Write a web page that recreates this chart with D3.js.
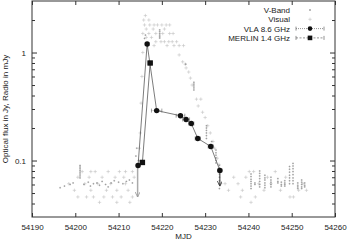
<!DOCTYPE html>
<html>
<head>
<meta charset="utf-8">
<script src="https://cdn.jsdelivr.net/npm/d3@7"></script>
<style>
  body { margin: 0; background: #fff; }
  text { font-family: "Liberation Sans", Arial, sans-serif; fill: #222; }
</style>
</head>
<body>
<script>
// V-Band measurements [MJD, flux in Jy]
var vband = [
  [54196.5,0.056],[54197.5,0.058],[54198.8,0.060],[54199.5,0.062],
  [54201.1,0.090],[54201.1,0.087],[54201.1,0.084],[54201.1,0.081],[54201.1,0.078],[54201.1,0.075],[54201.1,0.072],[54201.1,0.069],
  [54202.0,0.060],[54203.0,0.063],[54203.5,0.058],[54204.2,0.061],[54205.0,0.062],[54205.6,0.059],[54206.2,0.064],
  [54207.0,0.060],[54207.6,0.057],[54208.3,0.062],[54209.0,0.065],[54210.0,0.063],[54211.0,0.061],[54211.8,0.064],
  [54212.5,0.066],[54213.2,0.062],
  [54214.0,0.110],[54214.2,0.130],[54214.6,0.100],
  [54216.0,1.35],[54216.2,1.45],
  [54219.5,1.62],[54219.5,1.56],[54219.5,1.50],[54219.5,1.45],[54219.5,1.40],[54219.5,1.36],
  [54225.5,0.78],
  [54227.4,0.53],[54227.4,0.51],[54227.4,0.49],[54227.4,0.47],[54227.4,0.45],
  [54230.3,0.21],[54230.3,0.20],[54230.3,0.19],[54230.3,0.18],[54230.3,0.17],[54230.3,0.16],
  [54231.5,0.15],[54231.5,0.14],[54231.5,0.13],
  [54232.5,0.125],[54232.5,0.118],[54232.5,0.112],[54232.5,0.106],[54232.5,0.100],[54232.5,0.095],
  [54233.3,0.090],[54233.3,0.085],[54233.3,0.080],[54233.3,0.075],[54233.3,0.070],[54233.3,0.065],[54233.3,0.060],[54233.3,0.055],
  [54240.6,0.075],[54240.6,0.071],[54240.6,0.067],[54240.6,0.064],[54240.6,0.061],[54240.6,0.058],[54240.6,0.055],
  [54241.5,0.062],[54241.5,0.060],
  [54242.6,0.080],[54242.6,0.076],[54242.6,0.072],[54242.6,0.068],[54242.6,0.064],[54242.6,0.060],[54242.6,0.057],
  [54243.8,0.073],[54243.8,0.069],[54243.8,0.066],[54243.8,0.062],[54243.8,0.059],[54243.8,0.056],
  [54245.2,0.070],[54245.2,0.066],[54245.2,0.063],[54245.2,0.060],[54245.2,0.057],
  [54246.8,0.068],[54246.8,0.064],[54246.8,0.062],
  [54247.6,0.063],[54247.6,0.060],[54247.6,0.058],
  [54248.4,0.065],[54248.4,0.062],[54248.4,0.060],[54248.4,0.058],
  [54249.5,0.088],[54249.5,0.083],[54249.5,0.078],[54249.5,0.073],[54249.5,0.069],[54249.5,0.065],[54249.5,0.061],
  [54250.3,0.094],[54250.3,0.089],[54250.3,0.084],[54250.3,0.079],[54250.3,0.074],[54250.3,0.069],[54250.3,0.065],[54250.3,0.061],
  [54251.4,0.062],[54251.4,0.059],[54251.4,0.057],[54251.4,0.055],
  [54252.3,0.066],[54252.3,0.063],[54252.3,0.060],[54252.3,0.057],[54252.3,0.055],
  [54253.0,0.062],[54253.0,0.059],[54253.0,0.057]
];

// visual estimates [MJD, flux in Jy]
var visual = [
  [54198.5,0.061],[54199.8,0.053],[54200.6,0.070],[54200.6,0.046],[54201.6,0.079],[54202.2,0.061],[54202.6,0.046],
  [54203.2,0.070],[54203.6,0.053],[54204.2,0.046],[54204.6,0.079],[54205.2,0.061],[54205.6,0.041],[54206.2,0.070],
  [54206.6,0.046],[54207.2,0.053],[54207.6,0.079],[54208.2,0.061],[54208.6,0.046],[54209.2,0.070],[54209.6,0.053],
  [54210.2,0.079],[54210.6,0.046],[54211.2,0.070],[54211.6,0.061],[54212.2,0.053],[54212.6,0.041],[54213.2,0.079],
  [54213.6,0.070],[54213.2,0.046],[54211.6,0.079],[54203.6,0.079],[54209.6,0.041],
  [54214.8,0.13],[54215.0,0.18],[54215.2,0.34],[54215.4,0.6],[54215.6,1.0],
  [54216.2,2.2],[54215.8,2.0],[54217.0,2.0],[54216.0,1.8],[54217.2,1.8],[54218.2,1.8],[54219.0,1.8],[54220.0,1.8],
  [54221.0,1.8],[54221.8,1.8],[54216.4,1.65],[54218.0,1.65],[54220.6,1.65],[54215.6,1.5],[54217.0,1.5],[54218.6,1.5],
  [54220.2,1.5],[54221.8,1.5],[54222.6,1.5],[54216.4,1.38],[54217.6,1.38],[54218.6,1.26],[54219.8,1.26],[54220.6,1.26],
  [54221.6,1.26],[54222.4,1.26],[54223.4,1.26],[54216.8,1.16],[54218.2,1.16],[54221.2,1.16],[54222.8,1.16],
  [54224.0,1.16],[54225.0,1.16],
  [54224.0,0.95],[54224.8,0.82],[54225.6,0.72],[54226.6,0.58],[54227.0,0.50],[54228.0,0.37],[54229.0,0.37],
  [54228.4,0.32],[54229.4,0.28],[54230.0,0.25],[54230.6,0.21],[54231.2,0.18],[54231.8,0.15],[54232.2,0.13],
  [54232.8,0.105],[54233.2,0.092],[54225.4,0.78],[54226.2,0.66],
  [54233.6,0.061],[54234.6,0.061],[54235.4,0.053],[54236.6,0.070],[54237.6,0.061],[54238.6,0.053],[54239.4,0.070],
  [54240.2,0.079],[54241.2,0.079],[54241.6,0.046],[54242.4,0.061],[54243.6,0.053],[54244.4,0.070],[54245.2,0.061],
  [54246.2,0.079],[54247.4,0.053],[54248.6,0.070],[54249.6,0.046],[54250.4,0.046],[54251.6,0.053],[54252.6,0.061],
  [54253.4,0.053],[54240.6,0.041],[54238.2,0.046]
];

// radio points [MJD, flux in mJy, x error in days]
var vla = [
  [54214.5,0.090,0.4],[54216.6,1.2,0.4],[54218.8,0.29,1.2],[54224.3,0.26,1.0],[54225.6,0.24,0.8],
  [54226.8,0.22,0.6],[54228.3,0.16,0.6],[54231.3,0.135,0.6],[54233.4,0.081,0.5]
];
var merlin = [
  [54215.5,0.096,0.5],[54217.3,0.80,0.5]
];

// upper limit arrows [MJD, from, to]
var limits = [[54214.4,0.088,0.046]];
var vlaLimit = [[54233.4,0.081,0.058]];

var legendNames = ["V-Band", "Visual", "VLA 8.6 GHz", "MERLIN 1.4 GHz"];
var xTicks = [54190, 54200, 54210, 54220, 54230, 54240, 54250, 54260];

var margin = {top: 1, right: 13, bottom: 25, left: 32},
    width = 348 - margin.left - margin.right,
    height = 242 - margin.top - margin.bottom;

var x = d3.scaleLinear().domain([54190, 54260]).range([0, width]);
var y = d3.scaleLog().domain([0.03, 3]).range([height, 0]);

var svg = d3.select("body").append("svg")
    .attr("width", 348)
    .attr("height", 242)
  .append("g")
    .attr("transform", "translate(" + margin.left + "," + margin.top + ")");

var defs = svg.append("defs");
defs.append("marker").attr("id", "arrGray")
    .attr("viewBox", "0 0 6 6").attr("refX", 3).attr("refY", 6)
    .attr("markerWidth", 5).attr("markerHeight", 6)
    .attr("markerUnits", "userSpaceOnUse")
  .append("path").attr("d", "M0,0 L3,6 L6,0").attr("fill", "none").attr("stroke", "#999");
defs.append("marker").attr("id", "arrDark")
    .attr("viewBox", "0 0 6 6").attr("refX", 3).attr("refY", 6)
    .attr("markerWidth", 5).attr("markerHeight", 6)
    .attr("markerUnits", "userSpaceOnUse")
  .append("path").attr("d", "M0,0 L3,6 L6,0").attr("fill", "none").attr("stroke", "#333");

// axes (gnuplot style, ticks inward and mirrored)
var minorY = [0.04,0.05,0.06,0.07,0.08,0.09,0.2,0.3,0.4,0.5,0.6,0.7,0.8,0.9,2];

function styleAxis(g) {
  g.select(".domain").remove();
  g.selectAll("line").attr("stroke", "#333");
  g.selectAll("text").style("font-size", "8px").attr("fill", "#222");
}

svg.append("g").attr("transform", "translate(0," + height + ")")
    .call(d3.axisBottom(x).tickValues(xTicks).tickFormat(d3.format("d")).tickSize(-4).tickPadding(7))
    .call(styleAxis);
svg.append("g")
    .call(d3.axisTop(x).tickValues(xTicks).tickFormat("").tickSize(-4))
    .call(styleAxis);
svg.append("g")
    .call(d3.axisLeft(y).tickValues([0.1, 1]).tickFormat(d3.format("")).tickSize(-5).tickPadding(6))
    .call(styleAxis);
svg.append("g")
    .call(d3.axisLeft(y).tickValues(minorY).tickFormat("").tickSize(-3))
    .call(styleAxis);
svg.append("g").attr("transform", "translate(" + width + ",0)")
    .call(d3.axisRight(y).tickValues([0.1, 1]).tickFormat("").tickSize(-5))
    .call(styleAxis);
svg.append("g").attr("transform", "translate(" + width + ",0)")
    .call(d3.axisRight(y).tickValues(minorY).tickFormat("").tickSize(-3))
    .call(styleAxis);

svg.append("rect")
    .attr("width", width).attr("height", height)
    .attr("fill", "none").attr("stroke", "#333").attr("stroke-width", 1);

// axis labels
svg.append("text")
    .attr("transform", "rotate(-90)")
    .attr("y", 0 - margin.left + 8)
    .attr("x", 0 - (height / 2))
    .style("text-anchor", "middle")
    .style("font-size", "8px")
    .text("Optical flux in Jy, Radio in mJy");

svg.append("text")
    .attr("x", width / 2)
    .attr("y", height + 22)
    .style("text-anchor", "middle")
    .style("font-size", "8px")
    .text("MJD");

// small crosses for the optical data
function cross(sel, data, size, color) {
  sel.selectAll(null).data(data).enter().append("path")
      .attr("d", function(d) {
        var px = x(d[0]), py = y(d[1]);
        return "M" + (px - size) + "," + py + "h" + (2 * size) + "M" + px + "," + (py - size) + "v" + (2 * size);
      })
      .attr("stroke", color).attr("stroke-width", 0.6);
}
cross(svg.append("g"), visual, 1.7, "#c2c2c2");
cross(svg.append("g"), vband, 0.9, "#8a8a8a");

// upper limits
svg.selectAll(".lim").data(limits).enter().append("line")
    .attr("x1", function(d) { return x(d[0]); }).attr("x2", function(d) { return x(d[0]); })
    .attr("y1", function(d) { return y(d[1]); }).attr("y2", function(d) { return y(d[2]); })
    .attr("stroke", "#aaa").attr("stroke-width", 1.5)
    .attr("marker-end", "url(#arrGray)");

svg.selectAll(".vlim").data(vlaLimit).enter().append("line")
    .attr("x1", function(d) { return x(d[0]); }).attr("x2", function(d) { return x(d[0]); })
    .attr("y1", function(d) { return y(d[1]); }).attr("y2", function(d) { return y(d[2]); })
    .attr("stroke", "#333").attr("stroke-width", 1)
    .attr("marker-end", "url(#arrDark)");

// radio series
var line = d3.line()
    .x(function(d) { return x(d[0]); })
    .y(function(d) { return y(d[1]); });

function errBars(data) {
  var g = svg.append("g").attr("stroke", "#666").attr("stroke-width", 0.6);
  data.forEach(function(d) {
    var py = y(d[1]);
    g.append("line").attr("x1", x(d[0] - d[2])).attr("x2", x(d[0] + d[2]))
        .attr("y1", py).attr("y2", py).attr("stroke-dasharray", "1,1");
    g.append("line").attr("x1", x(d[0] - d[2])).attr("x2", x(d[0] - d[2]))
        .attr("y1", py - 2).attr("y2", py + 2);
    g.append("line").attr("x1", x(d[0] + d[2])).attr("x2", x(d[0] + d[2]))
        .attr("y1", py - 2).attr("y2", py + 2);
  });
}
errBars(vla);
errBars(merlin);

svg.append("path").datum(vla).attr("d", line)
    .attr("fill", "none").attr("stroke", "#444").attr("stroke-width", 0.7);
svg.append("path").datum(merlin).attr("d", line)
    .attr("fill", "none").attr("stroke", "#444").attr("stroke-width", 0.7);

svg.selectAll(".vla").data(vla).enter().append("circle")
    .attr("cx", function(d) { return x(d[0]); })
    .attr("cy", function(d) { return y(d[1]); })
    .attr("r", 2.7).attr("fill", "#111");

svg.selectAll(".merlin").data(merlin).enter().append("rect")
    .attr("x", function(d) { return x(d[0]) - 2.7; })
    .attr("y", function(d) { return y(d[1]) - 2.7; })
    .attr("width", 5.4).attr("height", 5.4).attr("fill", "#111");

// legend
var legend = svg.append("g").attr("transform", "translate(" + (width - 45) + ",0)");
legendNames.forEach(function(name, i) {
  var ly = 9 + i * 9.3;
  legend.append("text").attr("x", 0).attr("y", ly + 3)
      .style("text-anchor", "end").style("font-size", "8px").text(name);
  var cx = 20;
  if (i === 0) {
    legend.append("path").attr("d", "M" + (cx - 1) + "," + ly + "h2M" + cx + "," + (ly - 1) + "v2")
        .attr("stroke", "#8a8a8a").attr("stroke-width", 0.7);
  } else if (i === 1) {
    legend.append("path").attr("d", "M" + (cx - 1.7) + "," + ly + "h3.4M" + cx + "," + (ly - 1.7) + "v3.4")
        .attr("stroke", "#c2c2c2").attr("stroke-width", 0.6);
  } else {
    legend.append("line").attr("x1", 6).attr("x2", 34).attr("y1", ly).attr("y2", ly)
        .attr("stroke", "#666").attr("stroke-width", 0.7)
        .attr("stroke-dasharray", i === 2 ? "1,1" : "2,1.5");
    legend.append("line").attr("x1", 6).attr("x2", 6).attr("y1", ly - 2).attr("y2", ly + 2)
        .attr("stroke", "#666").attr("stroke-width", 0.7);
    legend.append("line").attr("x1", 34).attr("x2", 34).attr("y1", ly - 2).attr("y2", ly + 2)
        .attr("stroke", "#666").attr("stroke-width", 0.7);
    if (i === 2) {
      legend.append("circle").attr("cx", cx).attr("cy", ly).attr("r", 2.3).attr("fill", "#111");
    } else {
      legend.append("rect").attr("x", cx - 2.3).attr("y", ly - 2.3).attr("width", 4.6).attr("height", 4.6).attr("fill", "#111");
    }
  }
});
</script>
</body>
</html>
